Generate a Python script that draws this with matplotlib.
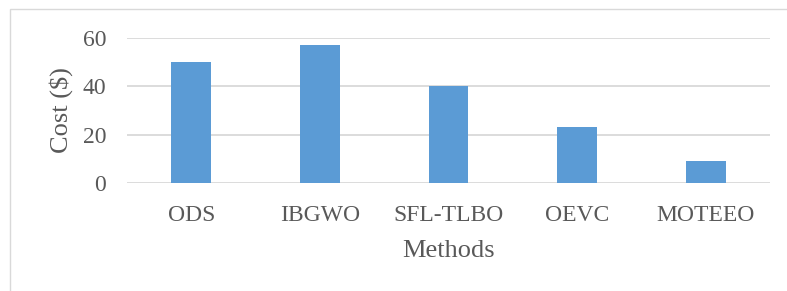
import matplotlib
matplotlib.use("Agg")
import matplotlib.pyplot as plt
from matplotlib.patches import Rectangle

methods = ["ODS", "IBGWO", "SFL-TLBO", "OEVC", "MOTEEO"]
cost = [50, 57, 40, 23, 9]
yticks = [0, 20, 40, 60]

W, H = 787, 291
fig = plt.figure(figsize=(W/100, H/100), dpi=100)
plt.rcParams['font.family'] = ['Liberation Serif', 'DejaVu Serif']
txt = '#595959'
grid = '#D9D9D9'

# outer chart frame (cropped at right/bottom)
fig.patches.append(Rectangle((10/W, -0.1), 1.2, (H-9)/H + 0.1, transform=fig.transFigure,
                             fill=False, edgecolor=grid, linewidth=1.0))

ax = fig.add_axes([127/W, 1-183/H, (770-127)/W, (183-38)/H])
x = list(range(len(methods)))
ax.bar(x, cost, width=0.31, color='#5B9BD5', zorder=3)
ax.set_xlim(-0.5, 4.5)
ax.set_yticks(yticks)
ax.set_xticks(x)
ax.set_xticklabels(methods)
for s in ax.spines.values():
    s.set_visible(False)
ax.tick_params(axis='both', length=0, colors=txt, labelsize=17)
ax.tick_params(axis='y', pad=15)
ax.tick_params(axis='x', pad=15.5)
ax.yaxis.grid(True, color=grid, linewidth=1.3, zorder=0)
ax.set_axisbelow(True)
ax.set_ylim(0, 60.01)
ax.set_ylabel('Cost ($)', fontsize=19, color=txt)
ax.set_xlabel('Methods', fontsize=19, color=txt)
ax.yaxis.set_label_coords(-(127-73)/(770-127), 0.5)
ax.xaxis.set_label_coords(0.5, -(240-183)/(183-38))
fig.savefig('out.png', dpi=100)
